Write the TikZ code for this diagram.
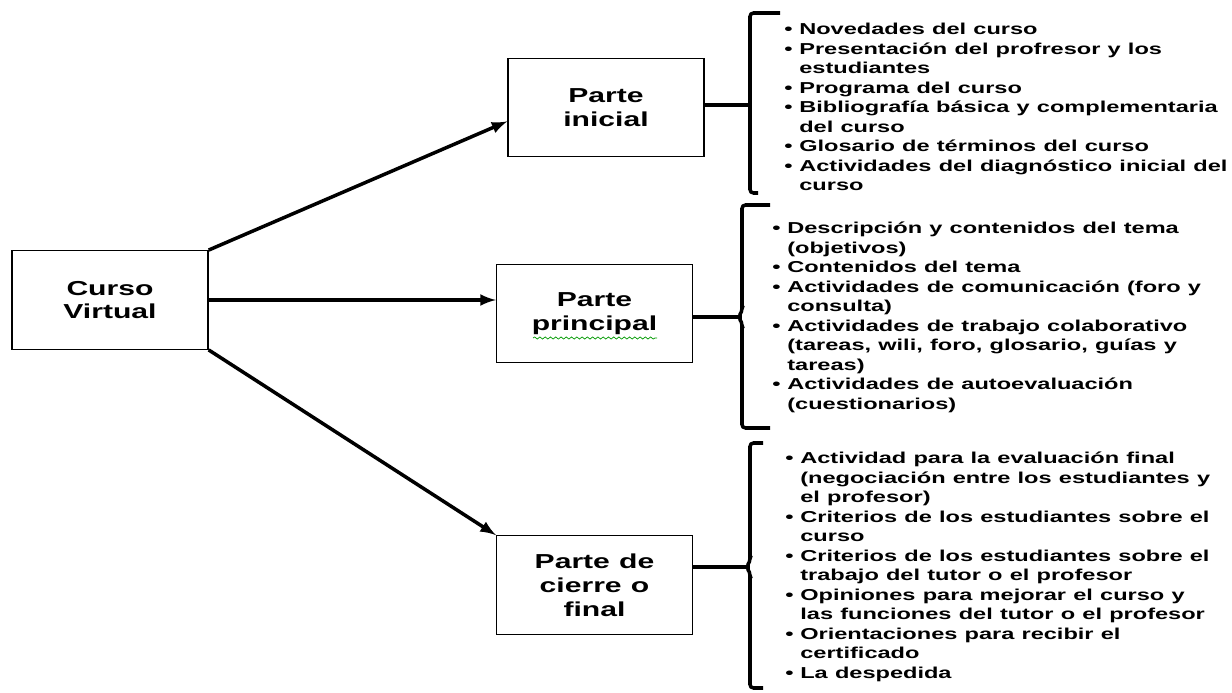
\documentclass[tikz,border=0pt]{standalone}
\usepackage{fontspec}
\setmainfont{Liberation Sans}[FakeStretch=1.49,WordSpace=1.1]
\usetikzlibrary{decorations.pathmorphing}

\newcommand{\bul}{\makebox[0.3cm][l]{\textbullet}}
\newcommand{\sig}{\hspace*{0.3cm}}

\begin{document}
\begin{tikzpicture}[
		x={(0.02cm,0cm)},
		y={(0cm,-0.02cm)},
		caja/.style={draw,line width=0.8pt,minimum width=3.92cm,minimum height=1.97cm,align=center,
			font=\bfseries\fontsize{11.5}{13.6}\selectfont},
		flecha/.style={-latex,line width=2pt},
		llave/.style={line width=2pt,rounded corners=2pt},
		lista/.style={anchor=north west,inner sep=0pt,align=left,
			font=\bfseries\fontsize{9}{11.1}\selectfont},
	]
		\useasboundingbox (0,0) rectangle (1232,693);

		% cajas
		\node[caja] (curso) at (110,300) {Curso\\Virtual};
		\node[caja] (inicial) at (606,107.5) {Parte\\inicial};
		\node[caja] (principal) at (594.5,313.5) {Parte\\principal};
		\node[caja] (final) at (594.5,585) {Parte de\\cierre o\\final};

		% subrayado del corrector
		\draw[green!60!black,line width=0.4pt,decorate,decoration={snake,amplitude=0.6pt,segment length=3pt}] (533,338) -- (657,338);

		% flechas
		\draw[flecha] (curso.north east) -- (inicial.188);
		\draw[flecha] (curso.east) -- (curso.east -| principal.west);
		\draw[flecha] (curso.south east) -- (final.north west);

		% llaves
		\coordinate (punta1) at (750,105);
		\coordinate (punta2) at (742,317);
		\coordinate (punta3) at (750,567);
		\draw[llave] (780,13) -- (750,13) -- (750,193) -- (758,193);
		\draw[llave] (inicial.east |- punta1) -- (punta1);
		\draw[llave] (770,205) -- (742,205) -- (742,312) -- (738,317) -- (742,322) -- (742,428) -- (770,428);
		\draw[llave] (principal.east |- punta2) -- (punta2);
		\draw[llave] (763,443) -- (750,443) -- (750,562) -- (746,567) -- (750,572) -- (750,688) -- (763,688);
		\draw[llave] (final.east |- punta3) -- (punta3);

		% listas
		\node[lista] (lista1) at (784,23) {\bul Novedades del curso\\
			\bul Presentación del profresor y los\\
			\sig estudiantes\\
			\bul Programa del curso\\
			\bul Bibliografía básica y complementaria\\
			\sig del curso\\
			\bul Glosario de términos del curso\\
			\bul Actividades del diagnóstico inicial del\\
			\sig curso};
		\node[lista] (lista2) at (772,222) {\bul Descripción y contenidos del tema\\
			\sig (objetivos)\\
			\bul Contenidos del tema\\
			\bul Actividades de comunicación (foro y\\
			\sig consulta)\\
			\bul Actividades de trabajo colaborativo\\
			\sig (tareas, wili, foro, glosario, guías y\\
			\sig tareas)\\
			\bul Actividades de autoevaluación\\
			\sig (cuestionarios)};
		\node[lista] (lista3) at (785,452) {\bul Actividad para la evaluación final\\
			\sig (negociación entre los estudiantes y\\
			\sig el profesor)\\
			\bul Criterios de los estudiantes sobre el\\
			\sig curso\\
			\bul Criterios de los estudiantes sobre el\\
			\sig trabajo del tutor o el profesor\\
			\bul Opiniones para mejorar el curso y\\
			\sig las funciones del tutor o el profesor\\
			\bul Orientaciones para recibir el\\
			\sig certificado\\
			\bul La despedida};
	\end{tikzpicture}
\end{document}
